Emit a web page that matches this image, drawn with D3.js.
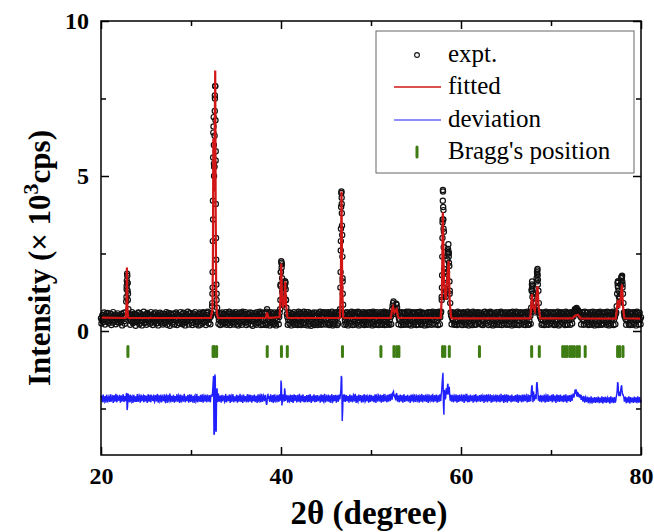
<!DOCTYPE html>
<html>
<head>
<meta charset="utf-8">
<title>XRD Rietveld refinement</title>
<script src="https://cdn.jsdelivr.net/npm/d3@7"></script>
<style>
    body {
        margin: 0;
        background: #fff;
    }
</style>
</head>
<body>
<div id="chart"></div>
<script>
// measured pattern on a 2theta grid 20..80 deg, step 0.1 deg (intensity in 10^3 cps)
const gridStart = 20, gridStep = 0.1;

const expt = [
    0.41,0.35,0.52,0.29,0.46,0.38,0.57,0.31,0.44,0.49,
    0.33,0.55,0.40,0.27,0.47,0.36,0.53,0.42,0.30,0.50,
    0.39,0.45,0.28,0.56,0.37,0.43,0.32,0.48,0.95,1.85,
    1.20,0.55,0.40,0.33,0.52,0.29,0.46,0.38,0.54,0.31,
    0.44,0.36,0.58,0.42,0.27,0.49,0.35,0.51,0.40,0.30,
    0.47,0.38,0.55,0.33,0.43,0.52,0.28,0.45,0.39,0.57,
    0.34,0.48,0.41,0.26,0.53,0.37,0.46,0.31,0.50,0.42,
    0.36,0.55,0.29,0.44,0.40,0.58,0.33,0.47,0.38,0.52,
    0.30,0.45,0.39,0.56,0.35,0.42,0.27,0.50,0.43,0.37,
    0.54,0.32,0.46,0.40,0.29,0.51,0.38,0.44,0.57,0.34,
    0.41,0.48,0.31,0.53,0.37,0.45,0.28,0.49,0.36,0.55,
    0.43,0.33,0.50,0.39,0.58,0.30,0.46,0.41,0.35,0.52,
    0.38,0.44,0.47,0.55,1.40,6.60,5.30,7.90,2.30,0.75,
    0.48,0.36,0.42,0.53,0.31,0.45,0.39,0.56,0.28,0.44,
    0.50,0.35,0.41,0.57,0.32,0.46,0.38,0.52,0.29,0.43,
    0.37,0.54,0.40,0.31,0.48,0.44,0.58,0.33,0.47,0.39,
    0.52,0.28,0.45,0.36,0.55,0.41,0.34,0.49,0.38,0.46,
    0.31,0.53,0.43,0.37,0.50,0.27,0.44,0.56,0.35,0.48,
    0.40,0.33,0.57,0.42,0.62,0.48,0.36,0.51,0.30,0.45,
    0.38,0.54,0.29,0.47,0.41,0.56,0.34,0.50,0.45,0.70,
    1.90,2.15,1.05,0.90,1.40,1.55,0.75,0.45,0.36,0.52,
    0.33,0.47,0.40,0.55,0.29,0.44,0.37,0.51,0.42,0.34,
    0.56,0.38,0.46,0.31,0.49,0.41,0.27,0.53,0.36,0.45,
    0.40,0.52,0.33,0.47,0.38,0.57,0.30,0.44,0.50,0.35,
    0.43,0.29,0.54,0.39,0.46,0.32,0.51,0.42,0.36,0.58,
    0.37,0.48,0.41,0.26,0.55,0.44,0.33,0.49,0.38,0.52,
    0.31,0.45,0.40,0.56,0.48,0.62,1.40,4.45,3.10,0.85,
    0.50,0.36,0.43,0.29,0.47,0.39,0.55,0.34,0.41,0.53,
    0.38,0.46,0.32,0.50,0.42,0.27,0.57,0.35,0.44,0.40,
    0.49,0.33,0.55,0.38,0.45,0.30,0.52,0.43,0.36,0.48,
    0.41,0.56,0.29,0.46,0.37,0.53,0.40,0.32,0.50,0.44,
    0.35,0.47,0.42,0.58,0.31,0.45,0.38,0.54,0.28,0.43,
    0.51,0.37,0.46,0.55,0.82,0.95,0.70,0.62,0.88,0.75,
    0.52,0.40,0.33,0.48,0.44,0.29,0.56,0.37,0.45,0.39,
    0.30,0.53,0.42,0.36,0.50,0.47,0.34,0.57,0.41,0.28,
    0.46,0.38,0.52,0.43,0.31,0.49,0.40,0.55,0.35,0.44,
    0.57,0.33,0.47,0.39,0.45,0.28,0.51,0.42,0.37,0.54,
    0.36,0.44,0.50,0.32,0.48,0.41,0.55,0.44,0.62,1.80,
    4.50,3.20,1.40,1.10,1.50,2.30,2.80,2.10,0.90,0.50,
    0.42,0.35,0.53,0.46,0.30,0.49,0.38,0.56,0.41,0.33,
    0.47,0.40,0.55,0.29,0.44,0.51,0.36,0.48,0.42,0.31,
    0.54,0.38,0.45,0.33,0.50,0.41,0.57,0.35,0.46,0.39,
    0.28,0.52,0.43,0.37,0.49,0.34,0.45,0.56,0.40,0.32,
    0.48,0.41,0.30,0.55,0.39,0.46,0.35,0.51,0.43,0.37,
    0.53,0.29,0.47,0.42,0.36,0.58,0.33,0.45,0.40,0.50,
    0.34,0.46,0.39,0.54,0.31,0.44,0.49,0.37,0.52,0.27,
    0.45,0.40,0.57,0.35,0.48,0.32,0.43,0.53,0.38,0.46,
    0.30,0.51,0.42,0.37,0.55,0.44,0.33,0.48,0.75,1.60,
    1.20,0.70,0.60,0.90,1.70,2.00,1.30,0.60,0.45,0.38,
    0.52,0.34,0.46,0.40,0.29,0.55,0.43,0.36,0.49,0.41,
    0.33,0.47,0.39,0.56,0.44,0.31,0.50,0.37,0.45,0.53,
    0.38,0.42,0.30,0.54,0.46,0.35,0.49,0.41,0.57,0.43,
    0.36,0.50,0.44,0.39,0.52,0.47,0.58,0.66,0.72,0.63,
    0.68,0.55,0.61,0.45,0.52,0.38,0.47,0.33,0.50,0.42,
    0.29,0.45,0.40,0.54,0.36,0.48,0.31,0.43,0.52,0.38,
    0.46,0.35,0.55,0.41,0.30,0.49,0.44,0.37,0.56,0.33,
    0.42,0.51,0.28,0.47,0.39,0.45,0.53,0.34,0.40,0.48,
    0.36,0.44,0.55,0.80,1.55,1.30,0.95,1.20,1.70,1.78,
    1.20,0.60,0.45,0.38,0.52,0.33,0.47,0.41,0.36,0.54,
    0.43,0.30,0.49,0.39,0.56,0.35,0.45,0.40,0.51,0.37,
    0.44
];

// measured points at the half steps 20.05, 20.15 ... 79.95
const exptMid = [
    0.24,0.50,0.37,0.60,0.21,0.45,0.33,0.58,0.26,0.40,
    0.55,0.19,0.43,0.61,0.30,0.48,0.22,0.39,0.57,0.27,
    0.36,0.50,0.42,0.18,0.47,0.59,0.23,0.60,1.45,1.55,
    0.70,0.44,0.20,0.49,0.61,0.25,0.56,0.34,0.17,0.52,
    0.29,0.60,0.22,0.47,0.55,0.18,0.40,0.62,0.26,0.53,
    0.20,0.58,0.32,0.49,0.23,0.61,0.37,0.19,0.54,0.28,
    0.60,0.24,0.51,0.18,0.44,0.59,0.27,0.55,0.21,0.48,
    0.25,0.49,0.61,0.20,0.53,0.31,0.17,0.57,0.42,0.23,
    0.56,0.21,0.35,0.60,0.19,0.52,0.46,0.24,0.61,0.29,
    0.22,0.59,0.27,0.18,0.55,0.33,0.62,0.21,0.47,0.58,
    0.26,0.19,0.57,0.43,0.61,0.22,0.51,0.30,0.18,0.60,
    0.20,0.56,0.24,0.61,0.28,0.49,0.19,0.58,0.62,0.25,
    0.45,0.22,0.58,0.80,3.60,5.40,7.60,5.80,1.20,0.55,
    0.23,0.58,0.19,0.30,0.60,0.22,0.54,0.25,0.61,0.20,
    0.57,0.24,0.62,0.19,0.48,0.27,0.59,0.21,0.55,0.61,
    0.21,0.46,0.18,0.60,0.25,0.57,0.20,0.62,0.29,0.53,
    0.61,0.19,0.56,0.23,0.32,0.60,0.21,0.58,0.17,0.50,
    0.58,0.24,0.20,0.61,0.27,0.55,0.62,0.19,0.59,0.22,
    0.20,0.60,0.25,0.19,0.70,0.23,0.58,0.18,0.61,0.26,
    0.57,0.21,0.60,0.24,0.18,0.53,0.61,0.22,0.58,1.45,
    2.20,1.25,0.85,1.10,1.60,1.00,0.55,0.20,0.60,0.24,
    0.59,0.18,0.56,0.23,0.61,0.20,0.57,0.26,0.19,0.62,
    0.22,0.60,0.19,0.57,0.24,0.62,0.20,0.55,0.61,0.18,
    0.61,0.21,0.58,0.17,0.55,0.23,0.60,0.19,0.25,0.59,
    0.19,0.56,0.23,0.62,0.20,0.58,0.22,0.61,0.57,0.21,
    0.60,0.24,0.61,0.19,0.21,0.57,0.62,0.18,0.22,0.58,
    0.23,0.61,0.19,0.24,0.60,0.70,2.90,4.10,1.60,0.55,
    0.20,0.59,0.22,0.61,0.18,0.56,0.24,0.60,0.62,0.19,
    0.58,0.20,0.61,0.23,0.57,0.62,0.18,0.60,0.21,0.56,
    0.24,0.61,0.19,0.58,0.22,0.60,0.20,0.57,0.61,0.23,
    0.59,0.18,0.62,0.21,0.58,0.20,0.61,0.24,0.19,0.57,
    0.61,0.22,0.20,0.56,0.62,0.19,0.59,0.21,0.60,0.24,
    0.20,0.58,0.22,0.70,0.90,0.75,0.55,0.68,0.85,0.62,
    0.22,0.60,0.58,0.19,0.61,0.23,0.20,0.59,0.21,0.62,
    0.59,0.20,0.62,0.24,0.18,0.57,0.61,0.21,0.58,0.60,
    0.19,0.61,0.21,0.58,0.62,0.20,0.23,0.60,0.57,0.18,
    0.24,0.58,0.19,0.61,0.22,0.60,0.59,0.20,0.62,0.23,
    0.60,0.21,0.61,0.57,0.19,0.62,0.22,0.58,1.10,3.50,
    3.90,1.90,1.20,1.30,1.90,2.60,2.50,1.30,0.60,0.22,
    0.61,0.57,0.20,0.23,0.60,0.19,0.62,0.22,0.58,0.59,
    0.21,0.19,0.61,0.58,0.23,0.20,0.60,0.62,0.18,0.57,
    0.23,0.60,0.19,0.62,0.57,0.21,0.20,0.59,0.61,0.24,
    0.60,0.22,0.58,0.20,0.19,0.61,0.62,0.23,0.57,0.60,
    0.19,0.59,0.62,0.21,0.60,0.18,0.23,0.58,0.20,0.61,
    0.22,0.61,0.20,0.58,0.62,0.19,0.57,0.24,0.60,0.21,
    0.60,0.20,0.59,0.22,0.61,0.58,0.18,0.62,0.21,0.59,
    0.20,0.62,0.21,0.60,0.19,0.57,0.61,0.23,0.58,0.20,
    0.61,0.19,0.58,0.62,0.21,0.20,0.60,0.23,1.30,1.45,
    0.90,0.65,0.70,1.20,1.90,1.65,0.90,0.50,0.61,0.20,
    0.23,0.60,0.19,0.58,0.62,0.21,0.57,0.20,0.61,0.24,
    0.60,0.22,0.61,0.19,0.20,0.59,0.23,0.62,0.18,0.58,
    0.21,0.61,0.57,0.23,0.60,0.19,0.62,0.22,0.20,0.59,
    0.58,0.20,0.61,0.24,0.60,0.62,0.70,0.66,0.74,0.60,
    0.64,0.58,0.50,0.21,0.61,0.59,0.20,0.62,0.23,0.58,
    0.60,0.19,0.22,0.61,0.57,0.20,0.62,0.24,0.18,0.60,
    0.22,0.61,0.19,0.58,0.62,0.21,0.20,0.60,0.23,0.59,
    0.61,0.20,0.62,0.23,0.18,0.60,0.21,0.58,0.62,0.19,
    0.58,0.22,0.60,1.20,1.60,1.10,1.05,1.50,1.76,1.50,
    0.90,0.50,0.61,0.20,0.59,0.62,0.22,0.19,0.60,0.58,
    0.20,0.61,0.23,0.60,0.18,0.62,0.57,0.21,0.59,0.22
];

// extra measured points on the flanks of the strong reflections [2theta, I]
const exptPeaks = [
    [22.83,1.10],[22.85,1.35],[22.87,1.62],[22.92,1.78],[22.94,1.55],[22.96,1.30],[22.98,1.00],
    [32.36,0.90],[32.38,1.20],[32.40,1.90],[32.42,2.90],[32.44,4.20],[32.46,5.60],[32.48,6.40],
    [32.52,6.90],[32.54,6.00],[32.56,5.00],[32.58,5.30],[32.62,6.30],[32.64,7.10],[32.66,7.50],
    [32.68,7.90],[32.72,6.80],[32.74,5.50],[32.76,4.10],[32.78,3.00],[32.82,1.50],[32.84,1.00],
    [39.93,1.00],[39.95,1.50],[39.97,1.90],[40.03,2.25],[40.07,2.05],[40.12,1.70],[40.15,1.30],
    [40.42,1.45],[40.45,1.60],[40.52,1.35],[40.55,1.00],
    [46.62,1.90],[46.64,2.60],[46.66,3.30],[46.68,4.00],[46.72,4.50],[46.74,4.30],[46.76,3.80],
    [46.78,3.40],[46.82,2.40],[46.84,1.70],[46.86,1.20],
    [57.86,1.00],[57.88,1.40],[57.92,2.40],[57.94,3.00],[57.96,3.60],[57.98,4.20],[57.99,4.55],
    [58.02,4.00],[58.04,3.60],[58.06,3.30],[58.08,2.70],[58.12,2.00],[58.14,1.70],
    [58.52,2.50],[58.56,2.65],[58.62,2.55],[58.64,2.40],[58.66,2.20],[58.72,1.60],[58.74,1.20],
    [67.86,1.35],[67.88,1.50],[67.92,1.40],[67.94,1.10],
    [68.42,1.60],[68.46,1.85],[68.48,1.95],[68.52,1.80],[68.54,1.50],
    [77.42,1.45],[77.44,1.60],[77.46,1.40],[77.82,1.60],[77.86,1.75],[77.88,1.72],[77.92,1.60],[77.95,1.40]
];

// fitted profile vertices [2theta, I]
const fitted = [
    [20,0.43],[22.75,0.42],[22.83,0.80],[22.88,2.05],[22.93,0.80],[23.0,0.45],[23.1,0.42],
    [32.2,0.42],[32.38,0.70],[32.44,2.50],[32.48,6.20],[32.52,5.60],[32.58,4.50],[32.64,6.50],
    [32.69,8.40],[32.74,4.00],[32.80,1.20],[32.88,0.55],[33.0,0.42],
    [38.3,0.42],[38.45,0.60],[38.6,0.42],
    [39.85,0.45],[39.95,1.20],[40.02,2.18],[40.10,1.20],[40.22,0.75],[40.38,1.00],[40.47,1.60],
    [40.55,0.90],[40.7,0.45],[40.8,0.42],
    [46.55,0.42],[46.65,1.50],[46.72,4.50],[46.80,1.50],[46.9,0.45],[47.0,0.42],
    [52.2,0.42],[52.35,0.70],[52.45,0.78],[52.6,0.60],[52.85,0.70],[53.0,0.45],[53.1,0.42],
    [57.75,0.42],[57.88,1.20],[57.98,3.83],[58.10,1.60],[58.30,1.00],[58.55,2.00],[58.63,2.26],
    [58.75,0.90],[58.9,0.45],[59.0,0.41],
    [67.7,0.41],[67.80,0.80],[67.88,1.19],[67.98,0.80],[68.20,0.65],[68.42,1.20],[68.50,1.45],
    [68.62,0.80],[68.8,0.41],
    [72.4,0.41],[72.7,0.50],[73.0,0.52],[73.3,0.41],
    [77.2,0.40],[77.35,0.80],[77.45,1.00],[77.58,0.75],[77.75,1.10],[77.88,1.50],[78.0,0.80],
    [78.15,0.41],[80,0.40]
];

// difference curve on the 0.1 deg grid
const deviation = [
    -2.17,-2.22,-2.12,-2.25,-2.15,-2.20,-2.10,-2.24,-2.16,-2.21,
    -2.13,-2.26,-2.18,-2.11,-2.23,-2.16,-2.20,-2.09,-2.24,-2.14,
    -2.19,-2.12,-2.27,-2.15,-2.21,-2.10,-2.23,-2.17,-2.05,-2.55,
    -2.02,-2.20,-2.14,-2.25,-2.11,-2.19,-2.22,-2.13,-2.27,-2.16,
    -2.10,-2.23,-2.17,-2.12,-2.26,-2.15,-2.20,-2.08,-2.22,-2.18,
    -2.14,-2.25,-2.11,-2.21,-2.16,-2.24,-2.09,-2.19,-2.13,-2.26,
    -2.18,-2.12,-2.23,-2.15,-2.20,-2.10,-2.25,-2.17,-2.13,-2.22,
    -2.16,-2.27,-2.11,-2.19,-2.14,-2.24,-2.18,-2.09,-2.21,-2.15,
    -2.23,-2.13,-2.20,-2.26,-2.12,-2.17,-2.22,-2.10,-2.19,-2.25,
    -2.14,-2.21,-2.16,-2.11,-2.24,-2.18,-2.13,-2.23,-2.15,-2.20,
    -2.12,-2.25,-2.17,-2.22,-2.10,-2.19,-2.24,-2.14,-2.21,-2.16,
    -2.26,-2.13,-2.20,-2.15,-2.23,-2.11,-2.18,-2.25,-2.12,-2.19,
    -2.16,-2.22,-2.14,-2.10,-1.95,-1.45,-3.30,-1.50,-3.25,-1.85,
    -2.05,-2.24,-2.15,-2.20,-2.12,-2.23,-2.17,-2.11,-2.26,-2.14,
    -2.19,-2.13,-2.22,-2.16,-2.09,-2.24,-2.18,-2.12,-2.21,-2.15,
    -2.23,-2.10,-2.17,-2.26,-2.14,-2.20,-2.11,-2.22,-2.16,-2.13,
    -2.20,-2.15,-2.25,-2.12,-2.18,-2.08,-2.21,-2.17,-2.24,-2.14,
    -2.11,-2.22,-2.16,-2.19,-2.13,-2.25,-2.10,-2.20,-2.15,-2.23,
    -2.17,-2.12,-2.21,-2.14,-2.38,-2.06,-2.19,-2.24,-2.13,-2.18,
    -2.22,-2.15,-2.10,-2.25,-2.17,-2.12,-2.20,-2.14,-2.23,-2.08,
    -1.60,-2.40,-2.05,-2.15,-1.85,-2.25,-2.12,-2.20,-2.16,-2.24,
    -2.13,-2.19,-2.11,-2.26,-2.15,-2.21,-2.09,-2.18,-2.23,-2.14,
    -2.20,-2.12,-2.24,-2.16,-2.10,-2.22,-2.17,-2.27,-2.13,-2.19,
    -2.15,-2.23,-2.11,-2.18,-2.25,-2.14,-2.20,-2.09,-2.22,-2.16,
    -2.12,-2.21,-2.17,-2.10,-2.24,-2.15,-2.19,-2.26,-2.13,-2.20,
    -2.18,-2.11,-2.23,-2.16,-2.14,-2.22,-2.09,-2.19,-2.25,-2.15,
    -2.21,-2.13,-2.18,-2.10,-2.24,-2.16,-2.05,-1.45,-2.90,-2.05,
    -2.25,-2.14,-2.20,-2.12,-2.17,-2.23,-2.11,-2.19,-2.15,-2.22,
    -2.16,-2.09,-2.21,-2.18,-2.13,-2.26,-2.14,-2.20,-2.11,-2.17,
    -2.23,-2.15,-2.10,-2.19,-2.24,-2.12,-2.18,-2.14,-2.22,-2.16,
    -2.11,-2.20,-2.17,-2.25,-2.13,-2.19,-2.08,-2.21,-2.15,-2.12,
    -2.19,-2.24,-2.14,-2.18,-2.10,-2.22,-2.16,-2.13,-2.20,-2.15,
    -2.11,-2.17,-2.08,-2.14,-2.00,-1.95,-2.12,-2.18,-2.05,-2.10,
    -2.16,-2.22,-2.12,-2.19,-2.14,-2.24,-2.17,-2.10,-2.21,-2.15,
    -2.13,-2.20,-2.18,-2.11,-2.23,-2.16,-2.09,-2.21,-2.14,-2.19,
    -2.17,-2.12,-2.24,-2.15,-2.20,-2.10,-2.18,-2.22,-2.13,-2.16,
    -2.21,-2.14,-2.19,-2.11,-2.17,-2.23,-2.12,-2.18,-2.08,-2.20,
    -2.15,-2.19,-2.13,-2.22,-2.16,-2.10,-2.20,-2.14,-2.05,-1.70,
    -1.35,-2.70,-2.00,-2.15,-1.95,-1.75,-2.05,-1.80,-2.25,-2.12,
    -2.18,-2.14,-2.22,-2.11,-2.19,-2.16,-2.24,-2.13,-2.17,-2.20,
    -2.12,-2.21,-2.15,-2.18,-2.09,-2.23,-2.14,-2.19,-2.16,-2.25,
    -2.13,-2.17,-2.11,-2.20,-2.15,-2.22,-2.10,-2.18,-2.14,-2.21,
    -2.16,-2.12,-2.19,-2.14,-2.23,-2.11,-2.17,-2.20,-2.13,-2.18,
    -2.10,-2.22,-2.15,-2.19,-2.13,-2.24,-2.16,-2.12,-2.21,-2.17,
    -2.14,-2.19,-2.11,-2.23,-2.16,-2.20,-2.13,-2.18,-2.09,-2.22,
    -2.17,-2.13,-2.21,-2.15,-2.19,-2.12,-2.24,-2.16,-2.20,-2.14,
    -2.11,-2.18,-2.15,-2.22,-2.13,-2.17,-2.10,-2.21,-2.16,-2.19,
    -2.14,-2.20,-2.12,-2.17,-2.23,-2.15,-2.19,-2.11,-2.00,-1.75,
    -2.30,-2.05,-2.15,-2.05,-1.70,-1.85,-2.25,-2.12,-2.18,-2.14,
    -2.20,-2.13,-2.17,-2.22,-2.15,-2.11,-2.19,-2.24,-2.14,-2.18,
    -2.16,-2.21,-2.12,-2.18,-2.14,-2.23,-2.17,-2.10,-2.20,-2.15,
    -2.19,-2.13,-2.22,-2.16,-2.11,-2.20,-2.14,-2.18,-2.23,-2.12,
    -2.17,-2.21,-2.14,-2.19,-2.12,-2.10,-2.05,-1.98,-1.90,-2.02,
    -2.00,-2.08,-2.04,-2.15,-2.10,-2.20,-2.14,-2.22,-2.17,-2.21,
    -2.24,-2.18,-2.25,-2.20,-2.27,-2.19,-2.23,-2.26,-2.21,-2.24,
    -2.19,-2.25,-2.22,-2.18,-2.26,-2.21,-2.24,-2.20,-2.27,-2.23,
    -2.22,-2.26,-2.19,-2.24,-2.21,-2.27,-2.23,-2.20,-2.25,-2.22,
    -2.26,-2.21,-2.25,-2.05,-1.65,-2.00,-1.95,-2.10,-1.80,-1.95,
    -2.05,-2.15,-2.22,-2.18,-2.24,-2.20,-2.26,-2.19,-2.23,-2.21,
    -2.25,-2.20,-2.24,-2.18,-2.26,-2.22,-2.19,-2.25,-2.21,-2.24,
    -2.22
];

// difference curve at the half steps 20.05 ... 79.95
const deviationMid = [
    -2.08,-2.30,-2.05,-2.28,-2.10,-2.31,-2.06,-2.27,-2.12,-2.29,
    -2.04,-2.26,-2.09,-2.32,-2.07,-2.28,-2.03,-2.30,-2.11,-2.25,
    -2.06,-2.31,-2.08,-2.27,-2.04,-2.29,-2.10,-2.26,-2.00,-2.45,
    -2.07,-2.30,-2.05,-2.28,-2.09,-2.32,-2.06,-2.27,-2.11,-2.29,
    -2.03,-2.28,-2.08,-2.31,-2.05,-2.26,-2.10,-2.30,-2.07,-2.27,
    -2.09,-2.32,-2.04,-2.28,-2.06,-2.30,-2.11,-2.25,-2.05,-2.29,
    -2.07,-2.27,-2.03,-2.31,-2.09,-2.28,-2.05,-2.30,-2.10,-2.26,
    -2.04,-2.29,-2.08,-2.32,-2.06,-2.27,-2.02,-2.30,-2.09,-2.28,
    -2.06,-2.31,-2.10,-2.26,-2.04,-2.29,-2.07,-2.32,-2.05,-2.27,
    -2.08,-2.28,-2.03,-2.30,-2.11,-2.26,-2.06,-2.31,-2.04,-2.29,
    -2.05,-2.27,-2.09,-2.32,-2.07,-2.28,-2.03,-2.30,-2.10,-2.26,
    -2.06,-2.29,-2.04,-2.31,-2.08,-2.27,-2.05,-2.30,-2.09,-2.28,
    -2.07,-2.30,-2.05,-2.10,-1.70,-3.35,-1.40,-3.20,-1.90,-2.30,
    -2.04,-2.28,-2.08,-2.31,-2.06,-2.27,-2.10,-2.29,-2.03,-2.30,
    -2.09,-2.26,-2.05,-2.32,-2.07,-2.28,-2.04,-2.30,-2.11,-2.27,
    -2.06,-2.31,-2.08,-2.26,-2.03,-2.29,-2.09,-2.32,-2.05,-2.28,
    -2.10,-2.27,-2.04,-2.30,-2.07,-2.28,-2.06,-2.31,-2.08,-2.26,
    -2.05,-2.29,-2.09,-2.32,-2.04,-2.27,-2.07,-2.30,-2.03,-2.28,
    -2.08,-2.26,-2.06,-2.31,-2.30,-2.05,-2.10,-2.28,-2.04,-2.29,
    -2.07,-2.32,-2.05,-2.27,-2.09,-2.30,-2.06,-2.28,-2.04,-2.25,
    -1.75,-2.30,-2.10,-2.28,-1.95,-2.20,-2.06,-2.31,-2.08,-2.27,
    -2.05,-2.29,-2.07,-2.32,-2.04,-2.26,-2.09,-2.30,-2.06,-2.28,
    -2.03,-2.31,-2.08,-2.27,-2.05,-2.29,-2.10,-2.26,-2.07,-2.30,
    -2.06,-2.28,-2.04,-2.32,-2.09,-2.27,-2.05,-2.30,-2.08,-2.29,
    -2.07,-2.26,-2.10,-2.31,-2.04,-2.28,-2.06,-2.29,-2.03,-2.30,
    -2.09,-2.27,-2.05,-2.30,-2.08,-2.32,-2.04,-2.28,-2.07,-2.26,
    -2.06,-2.31,-2.09,-2.28,-2.05,-2.20,-1.90,-1.50,-2.60,-2.25,
    -2.04,-2.29,-2.07,-2.26,-2.10,-2.31,-2.05,-2.28,-2.08,-2.30,
    -2.06,-2.27,-2.03,-2.32,-2.09,-2.29,-2.05,-2.26,-2.07,-2.31,
    -2.08,-2.30,-2.04,-2.28,-2.06,-2.27,-2.10,-2.31,-2.05,-2.29,
    -2.07,-2.26,-2.09,-2.30,-2.04,-2.32,-2.06,-2.28,-2.08,-2.27,
    -2.05,-2.31,-2.07,-2.29,-2.03,-2.27,-2.09,-2.30,-2.06,-2.28,
    -2.04,-2.26,-2.02,-2.22,-1.98,-2.10,-2.05,-2.24,-2.00,-2.28,
    -2.08,-2.30,-2.05,-2.27,-2.07,-2.31,-2.04,-2.29,-2.09,-2.26,
    -2.06,-2.28,-2.10,-2.32,-2.05,-2.27,-2.07,-2.30,-2.04,-2.29,
    -2.09,-2.26,-2.06,-2.31,-2.08,-2.28,-2.03,-2.30,-2.07,-2.27,
    -2.05,-2.29,-2.08,-2.32,-2.04,-2.26,-2.10,-2.28,-2.06,-2.30,
    -2.07,-2.27,-2.05,-2.31,-2.09,-2.29,-2.04,-2.26,-1.95,-1.50,
    -2.40,-1.90,-2.20,-1.85,-2.05,-1.70,-1.90,-2.10,-2.05,-2.28,
    -2.06,-2.30,-2.08,-2.27,-2.04,-2.31,-2.07,-2.29,-2.05,-2.26,
    -2.09,-2.28,-2.05,-2.32,-2.07,-2.27,-2.03,-2.30,-2.08,-2.29,
    -2.05,-2.26,-2.10,-2.31,-2.06,-2.28,-2.04,-2.30,-2.09,-2.27,
    -2.07,-2.29,-2.05,-2.27,-2.08,-2.32,-2.06,-2.28,-2.04,-2.30,
    -2.08,-2.26,-2.04,-2.31,-2.07,-2.29,-2.09,-2.27,-2.05,-2.30,
    -2.06,-2.28,-2.09,-2.30,-2.03,-2.27,-2.07,-2.32,-2.05,-2.29,
    -2.04,-2.31,-2.06,-2.26,-2.08,-2.30,-2.05,-2.28,-2.10,-2.27,
    -2.07,-2.29,-2.04,-2.32,-2.06,-2.27,-2.09,-2.30,-2.05,-2.28,
    -2.05,-2.26,-2.08,-2.30,-2.04,-2.29,-2.07,-2.27,-1.80,-2.10,
    -1.95,-2.25,-2.10,-2.20,-1.65,-2.00,-2.10,-2.28,-2.06,-2.30,
    -2.08,-2.27,-2.05,-2.31,-2.07,-2.29,-2.04,-2.28,-2.09,-2.26,
    -2.06,-2.30,-2.04,-2.27,-2.08,-2.32,-2.05,-2.28,-2.07,-2.29,
    -2.05,-2.27,-2.09,-2.30,-2.06,-2.28,-2.04,-2.31,-2.08,-2.26,
    -2.07,-2.29,-2.05,-2.25,-2.02,-2.15,-1.95,-1.90,-2.05,-2.12,
    -2.02,-2.15,-2.08,-2.22,-2.12,-2.28,-2.10,-2.31,-2.13,-2.29,
    -2.12,-2.33,-2.14,-2.30,-2.11,-2.34,-2.15,-2.31,-2.13,-2.32,
    -2.14,-2.30,-2.12,-2.33,-2.15,-2.31,-2.11,-2.34,-2.13,-2.30,
    -2.12,-2.32,-2.15,-2.30,-2.13,-2.34,-2.11,-2.31,-2.14,-2.33,
    -2.13,-2.31,-2.12,-1.95,-1.70,-2.10,-2.05,-1.90,-1.75,-2.05,
    -2.10,-2.28,-2.12,-2.33,-2.14,-2.31,-2.11,-2.34,-2.13,-2.30,
    -2.15,-2.32,-2.12,-2.30,-2.14,-2.33,-2.11,-2.31,-2.13,-2.32
];

// Bragg reflection positions (2theta)
const braggPos = [22.99, 32.45, 32.6, 32.85, 38.47, 40.05, 40.7, 46.83, 51.1, 52.55, 52.85, 53.1,
    57.95, 58.2, 58.7, 62.05, 67.85, 68.7, 71.3, 71.55, 71.8, 72.1, 72.35, 72.6, 72.9, 73.15,
    73.8, 77.4, 77.65, 78.0];
const braggLevel = [-0.5, -0.82];

const xMajor = [20, 40, 60, 80], xMinor = [30, 50, 70];
const yMajor = [0, 5, 10], yMinor = [-2.5, 2.5, 7.5];
const legendLabels = ["expt.", "fitted", "deviation", "Bragg's position"];

const serif = "'Liberation Serif', 'Times New Roman', serif";
const width = 654, height = 532;
const plotLeft = 101, plotRight = 641, plotTop = 21, plotBottom = 455;

const svg = d3.select("#chart").append("svg")
    .attr("width", width)
    .attr("height", height);

const x = d3.scaleLinear().domain([20, 80]).range([plotLeft, plotRight]);
const y = d3.scaleLinear().domain([-4, 10]).range([plotBottom, plotTop]);

const gridX = i => gridStart + i * gridStep;

// merge the whole-step and half-step readings into one ordered list
function merged(whole, half) {
    const pts = [];
    whole.forEach((v, i) => {
        pts.push([gridX(i), v]);
        if (i < half.length) pts.push([gridX(i) + gridStep / 2, half[i]]);
    });
    return pts;
}

// expt. points (open circles, overlapping into a dense band)
const exptPts = merged(expt, exptMid).concat(exptPeaks);
svg.append("g").selectAll("circle")
    .data(exptPts)
    .enter().append("circle")
    .attr("cx", d => x(d[0]))
    .attr("cy", d => y(d[1]))
    .attr("r", 2.6)
    .attr("fill", "none")
    .attr("stroke", "#111")
    .attr("stroke-width", 1.2);

// fitted line
svg.append("path")
    .datum(fitted)
    .attr("fill", "none")
    .attr("stroke", "#d21616")
    .attr("stroke-width", 2.2)
    .attr("d", d3.line().x(d => x(d[0])).y(d => y(d[1])));

// bragg positions
svg.append("g").selectAll("line")
    .data(braggPos)
    .enter().append("line")
    .attr("x1", d => x(d)).attr("x2", d => x(d))
    .attr("y1", y(braggLevel[0])).attr("y2", y(braggLevel[1]))
    .attr("stroke", "#3e7d14")
    .attr("stroke-width", 3)
    .attr("stroke-linecap", "round");

// deviation
svg.append("path")
    .datum(merged(deviation, deviationMid))
    .attr("fill", "none")
    .attr("stroke", "#1f1fff")
    .attr("stroke-width", 1.4)
    .attr("d", d3.line().x(d => x(d[0])).y(d => y(d[1])));

// frame and ticks (inward on all sides)
svg.append("rect")
    .attr("x", plotLeft).attr("y", plotTop)
    .attr("width", plotRight - plotLeft).attr("height", plotBottom - plotTop)
    .attr("fill", "none")
    .attr("stroke", "#000")
    .attr("stroke-width", 1.5);

function addAxis(axis, tx, ty, values, size, labels) {
    const g = svg.append("g")
        .attr("transform", `translate(${tx},${ty})`)
        .call(axis.tickValues(values).tickSizeInner(-size).tickSizeOuter(0)
            .tickPadding(labels ? 12 : 0)
            .tickFormat(labels ? d3.format("d") : ""));
    g.select(".domain").remove();
    g.selectAll("line").attr("stroke", "#000").attr("stroke-width", 1.5);
    g.selectAll("text")
        .attr("fill", "#000")
        .attr("font-family", serif)
        .attr("font-weight", "bold")
        .attr("font-size", 24);
    return g;
}

addAxis(d3.axisBottom(x), 0, plotBottom, xMajor, 8, true);
addAxis(d3.axisBottom(x), 0, plotBottom, xMinor, 5, false);
addAxis(d3.axisTop(x), 0, plotTop, xMajor, 8, false);
addAxis(d3.axisTop(x), 0, plotTop, xMinor, 5, false);
addAxis(d3.axisLeft(y), plotLeft, 0, yMajor, 8, true);
addAxis(d3.axisLeft(y), plotLeft, 0, yMinor, 5, false);
addAxis(d3.axisRight(y), plotRight, 0, yMajor, 8, false);
addAxis(d3.axisRight(y), plotRight, 0, yMinor, 5, false);

// axis titles
svg.append("text")
    .attr("x", 369).attr("y", 524)
    .attr("text-anchor", "middle")
    .attr("font-family", serif)
    .attr("font-weight", "bold")
    .attr("font-size", 33)
    .text("2θ (degree)");

const yTitle = svg.append("text")
    .attr("transform", "translate(50,258) rotate(-90)")
    .attr("text-anchor", "middle")
    .attr("font-family", serif)
    .attr("font-weight", "bold")
    .attr("font-size", 31);
yTitle.append("tspan").text("Intensity (× 10");
yTitle.append("tspan").attr("dy", -12).attr("font-size", 22).text("3");
yTitle.append("tspan").attr("dy", 12).text("cps)");

// legend
const lg = svg.append("g");
lg.append("rect")
    .attr("x", 376).attr("y", 31)
    .attr("width", 258).attr("height", 142)
    .attr("fill", "#fff")
    .attr("stroke", "#666")
    .attr("stroke-width", 1);

const rowY = [55, 87, 120, 152];
lg.append("circle").attr("cx", 417).attr("cy", rowY[0]).attr("r", 2.4)
    .attr("fill", "none").attr("stroke", "#111").attr("stroke-width", 1.1);
lg.append("line").attr("x1", 394).attr("x2", 441).attr("y1", rowY[1]).attr("y2", rowY[1])
    .attr("stroke", "#d21616").attr("stroke-width", 1.6);
lg.append("line").attr("x1", 394).attr("x2", 441).attr("y1", rowY[2]).attr("y2", rowY[2])
    .attr("stroke", "#1f1fff").attr("stroke-width", 1.2);
lg.append("line").attr("x1", 417).attr("x2", 417).attr("y1", rowY[3] - 5).attr("y2", rowY[3] + 5)
    .attr("stroke", "#3e7d14").attr("stroke-width", 3).attr("stroke-linecap", "round");

lg.selectAll("text.lab")
    .data(legendLabels)
    .enter().append("text")
    .attr("class", "lab")
    .attr("x", 448)
    .attr("y", (d, i) => rowY[i] + 7)
    .attr("font-family", serif)
    .attr("font-size", 25)
    .text(d => d);
</script>
</body>
</html>
